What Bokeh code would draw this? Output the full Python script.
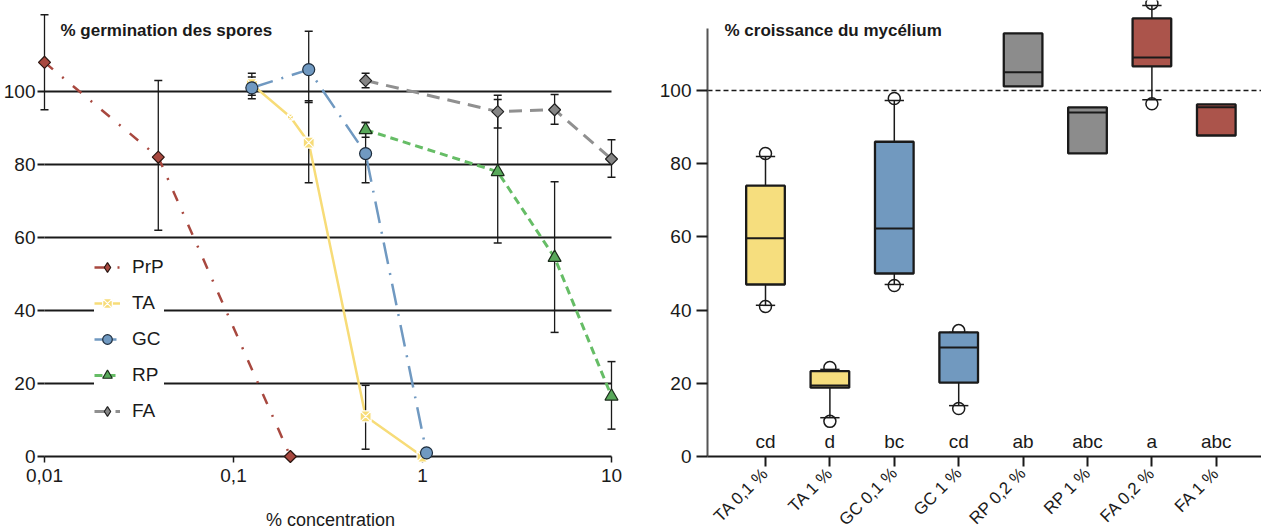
import math
import numpy as np
from bokeh.plotting import figure
from bokeh.models import Range1d, FixedTicker, Legend, LegendItem, Label
from bokeh.layouts import row
from bokeh.embed import file_html
from bokeh.resources import INLINE
from bokeh.core.properties import value

nan = float("nan")

# ---------------- data : germination des spores ----------------
prp_conc = [0.01, 0.04, 0.2]
prp_germ = [108, 82, 0]
prp_lo = [95, 62, nan]
prp_hi = [121, 103, nan]

ta_conc = [0.125, 0.2, 0.25, 0.5, 1.0]
ta_germ = [102, 93, 86, 11, 0]
ta_lo = [99, nan, 75, 2, nan]
ta_hi = [105, nan, 97.5, 19.5, nan]

gc_conc = [0.125, 0.25, 0.5, 1.05]
gc_germ = [101, 106, 83, 1]
gc_lo = [98, 97, 75, nan]
gc_hi = [104, 116.5, 91.5, nan]

rp_conc = [0.5, 2.5, 5, 10]
rp_germ = [89.5, 78, 54.5, 16.5]
rp_lo = [87.5, 58.5, 34, 7.5]
rp_hi = [91.5, 97.8, 75.3, 26]

fa_conc = [0.5, 2.5, 5, 10]
fa_germ = [103, 94.5, 95, 81.5]
fa_lo = [101, 90, 91, 76.5]
fa_hi = [105, 99, 99.2, 86.8]

series_names = ["PrP", "TA", "GC", "RP", "FA"]
x_ticks = [0.01, 0.1, 1, 10]
x_tick_labels = ["0,01", "0,1", "1", "10"]
y_ticks = [0, 20, 40, 60, 80, 100]

# ---------------- data : croissance du mycélium ----------------
categories = ["TA 0,1 %", "TA 1 %", "GC 0,1 %", "GC 1 %", "RP 0,2 %", "RP 1 %", "FA 0,2 %", "FA 1 %"]
box_q1 = [47, 18.8, 50, 20.2, 101.1, 82.8, 106.6, 87.7]
box_med = [59.6, 19.4, 62.3, 29.8, 105, 94, 109, 95.4]
box_q3 = [74, 23.3, 86, 33.9, 115.6, 95.4, 119.7, 96.2]
whisk_lo = [41.3, 10.6, 47, 13.9, nan, nan, 97.5, nan]
whisk_hi = [82, 23.8, 97.3, 33.9, nan, nan, 123.2, nan]
point_lo = [41, 9.6, 46.7, 13.1, nan, nan, 96.4, nan]
point_hi = [82.8, 24.3, 97.8, 34.4, nan, nan, 123.8, nan]
letters = ["cd", "d", "bc", "cd", "ab", "abc", "a", "abc"]
reference_level = 100

# ---------------- styles ----------------
FONT = "Liberation Sans"
INK = "#1a1a1a"
styles = {
    "PrP": dict(color="#a8483f", fill="#a8483f", edge="#2a1510", dash="11 12 2 12", lw=2.5,
                marker="square", size=8.5, angle=math.pi / 4, lmarker="diamond", lsize=12),
    "TA": dict(color="#f7dc78", fill="#f7dc78", edge="white", dash="solid", lw=2.5,
               marker="square_x", size=11, angle=0, lmarker="square_x", lsize=11),
    "GC": dict(color="#7099c1", fill="#7099c1", edge="#1e2d3d", dash="22 9 2 9", lw=2.5,
               marker="circle", size=12, angle=0, lmarker="circle", lsize=12),
    "RP": dict(color="#66bd66", fill="#58a85a", edge="#1a2a1a", dash="8 5", lw=3,
               marker="triangle", size=13, angle=0, lmarker="triangle", lsize=13),
    "FA": dict(color="#909090", fill="#858585", edge="#222222", dash="13 8", lw=3,
               marker="square", size=8.5, angle=math.pi / 4, lmarker="diamond", lsize=12),
}
ta_sizes = [11, 6, 11, 11, 11]

W1, W2, H = 648, 613, 532

# ---------------- left figure ----------------
PXD = 189.0          # pixels per decade
PXU = 3.65           # pixels per % unit
X0 = 44              # pixel of 0.01
Y0 = 456             # pixel of 0 %
p1 = figure(width=W1, height=H, x_axis_type="log",
            x_range=Range1d(10 ** (-2 - X0 / PXD), 10 ** (-2 + (W1 - X0) / PXD)),
            y_range=Range1d((Y0 - H) / PXU, Y0 / PXU),
            output_backend="svg", toolbar_location=None, min_border=0,
            outline_line_color=None)
p1.xgrid.visible = False
p1.ygrid.visible = False

grid_vals = y_ticks[1:]
p1.segment(x0=[x_ticks[0]] * len(grid_vals), y0=grid_vals,
           x1=[x_ticks[-1]] * len(grid_vals), y1=grid_vals,
           line_color=INK, line_width=2)

data = {
    "PrP": (prp_conc, prp_germ, prp_lo, prp_hi),
    "TA": (ta_conc, ta_germ, ta_lo, ta_hi),
    "GC": (gc_conc, gc_germ, gc_lo, gc_hi),
    "RP": (rp_conc, rp_germ, rp_lo, rp_hi),
    "FA": (fa_conc, fa_germ, fa_lo, fa_hi),
}

line_r = {}
for name in series_names:
    xs, ys, lo, hi = data[name]
    st = styles[name]
    line_r[name] = p1.line(xs, ys, line_color=st["color"], line_width=st["lw"], line_dash=st["dash"])

for name in series_names:
    xs, ys, lo, hi = data[name]
    xs = np.array(xs, float); lo = np.array(lo, float); hi = np.array(hi, float)
    m = ~np.isnan(lo)
    p1.segment(x0=xs[m], y0=lo[m], x1=xs[m], y1=hi[m], line_color=INK, line_width=1.3)
    p1.scatter(np.concatenate([xs[m], xs[m]]), np.concatenate([lo[m], hi[m]]),
               marker="dash", size=8, line_color=INK, line_width=1.5)

legend_mark = {}
for name in series_names:
    xs, ys, lo, hi = data[name]
    st = styles[name]
    size = ta_sizes if name == "TA" else st["size"]
    p1.scatter(xs, ys, marker=st["marker"], size=size, angle=st["angle"],
               fill_color=st["fill"], line_color=st["edge"], line_width=1.2)
    # hidden twin, used only to draw the legend symbol
    legend_mark[name] = p1.scatter(xs, ys, marker=st["lmarker"], size=st["lsize"],
                                   fill_color=st["fill"], line_color=st["edge"], line_width=1.2,
                                   visible=False)

xa = p1.xaxis[0]
xa.fixed_location = 0
xa.bounds = (x_ticks[0], x_ticks[-1])
xa.ticker = FixedTicker(ticks=x_ticks)
xa.major_label_overrides = {t: l for t, l in zip(x_ticks, x_tick_labels)}
xa.axis_line_color = INK
xa.axis_line_width = 2
xa.major_tick_line_color = INK
xa.major_tick_line_width = 1.5
xa.major_tick_out = 6
xa.major_tick_in = 0
xa.minor_tick_line_color = None
xa.major_label_text_font = FONT
xa.major_label_text_font_size = "19px"
xa.major_label_text_color = INK
xa.major_label_standoff = 6
xa.level = "underlay"

ya = p1.yaxis[0]
ya.fixed_location = x_ticks[0]
ya.ticker = FixedTicker(ticks=y_ticks)
ya.axis_line_color = None
ya.major_tick_line_color = INK
ya.major_tick_line_width = 2
ya.major_tick_out = 7
ya.major_tick_in = 0
ya.minor_tick_line_color = None
ya.major_label_text_font = FONT
ya.major_label_text_font_size = "19px"
ya.major_label_text_color = INK
ya.major_label_standoff = 2
ya.level = "underlay"

p1.add_layout(Label(x=10 ** (-2 + (60 - X0) / PXD), y=(Y0 - 30) / PXU, text="% germination des spores",
                    text_font=FONT, text_font_size="17px", text_font_style="bold",
                    text_baseline="middle", text_color=INK))
p1.add_layout(Label(x=10 ** (-2 + (330 - X0) / PXD), y=(Y0 - 519) / PXU, text="% concentration",
                    text_font=FONT, text_font_size="18px", text_align="center",
                    text_baseline="middle", text_color=INK))

legend = Legend(items=[LegendItem(label=n, renderers=[line_r[n], legend_mark[n]]) for n in series_names],
                location=(94, 109), margin=0, padding=12, spacing=12,
                glyph_width=26, glyph_height=24, label_height=24, label_standoff=12,
                label_text_font=FONT, label_text_font_size="19px", label_text_color=INK,
                border_line_color=None, background_fill_color="white", background_fill_alpha=1,
                click_policy="none", inactive_fill_alpha=0)
p1.add_layout(legend)

# ---------------- right figure ----------------
CAT_PX = 64.4
PXU2 = 3.66
C1 = 765 - W1        # pixel of first category inside right figure
pos = np.arange(1, len(categories) + 1, dtype=float)
x_axis_at = 1 + (707 - 765) / CAT_PX
x_start = 1 - C1 / CAT_PX
x_end = 1 + (W2 - C1) / CAT_PX
p2 = figure(width=W2, height=H,
            x_range=Range1d(x_start, x_end),
            y_range=Range1d((Y0 - H) / PXU2, Y0 / PXU2),
            output_backend="svg", toolbar_location=None, min_border=0,
            outline_line_color=None)
p2.xgrid.visible = False
p2.ygrid.visible = False

p2.segment(x0=[x_axis_at], y0=[reference_level], x1=[x_end], y1=[reference_level],
           line_color=INK, line_width=1.3, line_dash="5 3")

q1 = np.array(box_q1); q3 = np.array(box_q3); med = np.array(box_med)
wl = np.array(whisk_lo); wh = np.array(whisk_hi)
pl = np.array(point_lo); ph = np.array(point_hi)
mw = ~np.isnan(wl)
half_box = 0.3
half_cap = 0.15

p2.segment(x0=pos[mw], y0=q3[mw], x1=pos[mw], y1=wh[mw], line_color=INK, line_width=1.5)
p2.segment(x0=pos[mw], y0=q1[mw], x1=pos[mw], y1=wl[mw], line_color=INK, line_width=1.5)
p2.segment(x0=pos[mw] - half_cap, y0=wh[mw], x1=pos[mw] + half_cap, y1=wh[mw], line_color=INK, line_width=1.5)
p2.segment(x0=pos[mw] - half_cap, y0=wl[mw], x1=pos[mw] + half_cap, y1=wl[mw], line_color=INK, line_width=1.5)
p2.scatter(np.concatenate([pos[mw], pos[mw]]), np.concatenate([pl[mw], ph[mw]]),
           marker="circle", size=12, fill_alpha=0, line_color=INK, line_width=1.5)

box_colors = ["#f6de7e", "#f6de7e", "#7199bf", "#7199bf", "#8c8c8c", "#8c8c8c", "#ab544b", "#ab544b"]
p2.vbar(x=pos, width=2 * half_box, bottom=q1, top=q3, fill_color=box_colors,
        line_color=INK, line_width=2.3)
p2.segment(x0=pos - half_box, y0=med, x1=pos + half_box, y1=med, line_color=INK, line_width=2)

p2.text(x=pos, y=[(Y0 - 441) / PXU2] * len(pos), text=letters, text_font=value(FONT),
        text_font_size="19px", text_align="center", text_baseline="middle", text_color=INK)

xb = p2.xaxis[0]
xb.fixed_location = 0
xb.bounds = (x_axis_at, x_end)
xb.ticker = FixedTicker(ticks=list(pos))
xb.major_label_overrides = {float(i + 1): c for i, c in enumerate(categories)}
xb.major_label_orientation = math.pi / 4
xb.axis_line_color = INK
xb.axis_line_width = 2
xb.major_tick_line_color = INK
xb.major_tick_line_width = 2
xb.major_tick_out = 10
xb.major_tick_in = 0
xb.minor_tick_line_color = None
xb.major_label_text_font = FONT
xb.major_label_text_font_size = "17px"
xb.major_label_text_color = INK
xb.major_label_standoff = 4

yb = p2.yaxis[0]
yb.fixed_location = x_axis_at
yb.bounds = (0, 117)
yb.ticker = FixedTicker(ticks=y_ticks)
yb.axis_line_color = "#555555"
yb.axis_line_width = 2
yb.major_tick_line_color = INK
yb.major_tick_line_width = 2
yb.major_tick_out = 11
yb.major_tick_in = 0
yb.minor_tick_line_color = None
yb.major_label_text_font = FONT
yb.major_label_text_font_size = "19px"
yb.major_label_text_color = INK
yb.major_label_standoff = 5

p2.add_layout(Label(x=1 + (724 - 765) / CAT_PX, y=(Y0 - 30) / PXU2, text="% croissance du mycélium",
                    text_font=FONT, text_font_size="17px", text_font_style="bold",
                    text_baseline="middle", text_color=INK))

layout = row(p1, p2, spacing=0)
open("out.html", "w").write(file_html(layout, INLINE))
